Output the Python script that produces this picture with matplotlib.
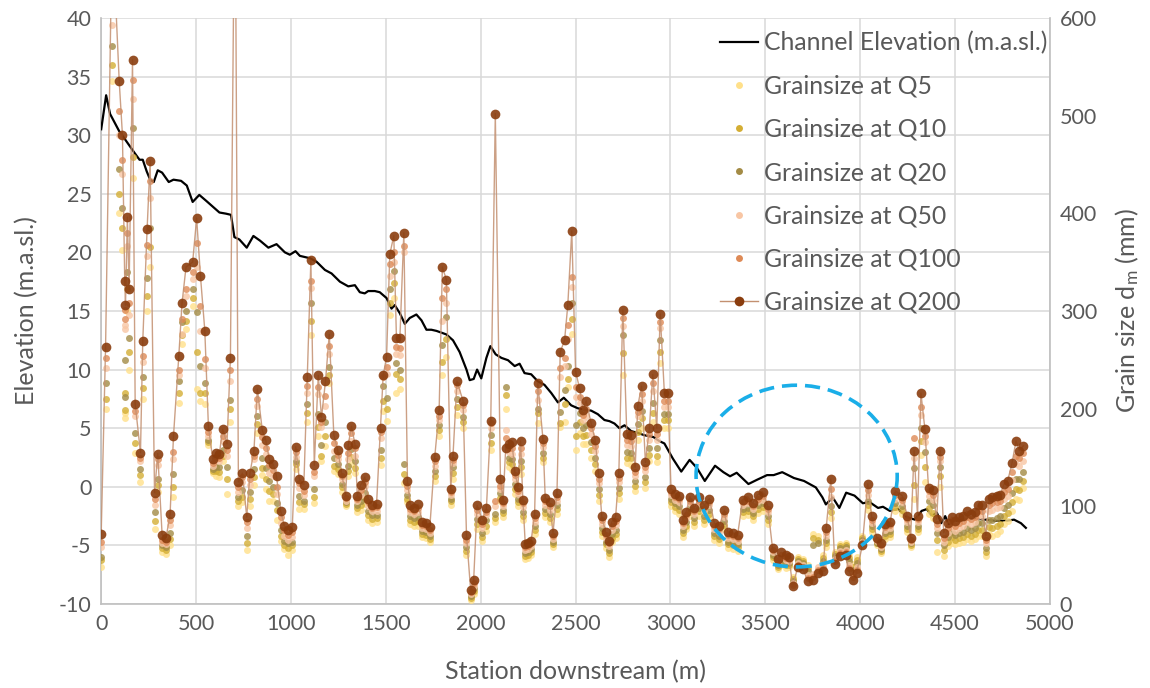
import matplotlib
matplotlib.use("Agg")
import matplotlib.pyplot as plt
from matplotlib.patches import Ellipse
from matplotlib.lines import Line2D

plt.rcParams['font.family'] = ['Lato', 'DejaVu Sans']
plt.rcParams['mathtext.fontset'] = 'custom'
plt.rcParams['mathtext.rm'] = 'Lato'
plt.rcParams['mathtext.it'] = 'Lato:italic'
plt.rcParams['axes.unicode_minus'] = False

# ---------------- Channel elevation (m.a.sl.) ----------------
channel_station = [
    0, 26, 47, 70, 96, 123, 149, 175, 202, 219,
    240, 258, 277, 298, 321, 356, 381, 421, 451, 482,
    517, 553, 588, 623, 658, 684, 702, 728, 767, 802,
    837, 881, 924, 968, 994, 1024, 1047, 1100, 1135, 1179,
    1214, 1258, 1302, 1337, 1363, 1389, 1407, 1442, 1468, 1504,
    1530, 1547, 1574, 1600, 1626, 1661, 1688, 1714, 1740, 1767,
    1819, 1854, 1889, 1925, 1942, 1963, 1981, 2003, 2030, 2051,
    2079, 2109, 2144, 2179, 2205, 2231, 2266, 2301, 2336, 2372,
    2407, 2438, 2477, 2512, 2547, 2582, 2617, 2652, 2679, 2705,
    2731, 2758, 2793, 2828, 2863, 2910, 2942, 2968, 3013, 3057,
    3101, 3140, 3181, 3235, 3279, 3314, 3349, 3411, 3456, 3509,
    3544, 3589, 3651, 3704, 3766, 3801, 3819, 3855, 3890, 3926,
    3970, 4014, 4049, 4094, 4120, 4156, 4200, 4245, 4289, 4324,
    4351, 4377, 4404, 4427, 4448, 4466, 4501, 4554, 4608, 4661,
    4714, 4767, 4811, 4847, 4873]
channel_elev = [
    30.5, 33.4, 31.8, 31.1, 30.3, 29.7, 29.1, 28.5, 27.9, 27.9,
    26.9, 26.2, 26.0, 27.0, 26.8, 26.0, 26.2, 26.1, 25.7, 24.3,
    24.9, 24.4, 23.9, 23.4, 23.3, 23.2, 21.3, 21.1, 20.4, 21.4,
    21.0, 20.4, 20.7, 20.0, 19.8, 20.1, 19.7, 19.5, 19.2, 18.5,
    18.2, 17.5, 17.1, 17.2, 16.6, 16.5, 16.7, 16.7, 16.6, 16.1,
    15.2, 15.5, 14.8, 13.9, 14.4, 14.7, 14.2, 13.4, 13.4, 13.3,
    13.0, 12.5, 11.5, 10.0, 9.1, 9.2, 10.0, 9.25, 11.0, 12.0,
    11.3, 11.0, 10.8, 10.3, 10.5, 9.7, 9.6, 9.0, 8.7, 8.0,
    7.2, 7.6, 6.95, 6.7, 6.6, 6.5, 6.2, 5.7, 5.6, 5.4,
    5.0, 5.25, 4.75, 4.6, 4.4, 4.25, 3.9, 3.7, 2.4, 1.3,
    2.3, 1.6, 0.5, 1.8, 1.25, 0.9, 1.2, 0.24, 0.6, 1.0,
    1.0, 1.25, 0.75, 0.5, -0.05, -0.9, -1.5, -0.9, -1.8, -0.5,
    -0.75, -1.4, -1.3, -1.8, -1.7, -2.05, -1.9, -2.6, -2.8, -2.05,
    -1.9, -2.5, -2.2, -3.1, -2.5, -3.2, -2.9, -2.8, -2.7, -2.8,
    -2.9, -2.9, -2.8, -3.1, -3.5]

# ---------------- Grain size stations (m) ----------------
grain_station = [
    0, 23, 58, 95, 112, 124, 128, 138, 147, 165,
    179, 207, 219, 242, 258, 281, 298, 321, 342, 363,
    381, 409, 426, 447, 482, 503, 523, 546, 565, 588,
    605, 623, 640, 663, 681, 705, 723, 744, 767, 784,
    805, 823, 849, 867, 886, 907, 924, 946, 965, 986,
    1007, 1025, 1044, 1068, 1086, 1105, 1123, 1144, 1161, 1182,
    1202, 1226, 1246, 1267, 1288, 1302, 1319, 1337, 1350, 1368,
    1389, 1407, 1428, 1451, 1472, 1486, 1504, 1521, 1542, 1556,
    1574, 1595, 1614, 1630, 1649, 1670, 1693, 1714, 1732, 1758,
    1781, 1798, 1819, 1842, 1854, 1875, 1907, 1925, 1947, 1963,
    1981, 2009, 2030, 2053, 2077, 2104, 2118, 2132, 2147, 2165,
    2179, 2196, 2210, 2222, 2235, 2250, 2266, 2284, 2301, 2328,
    2340, 2363, 2381, 2402, 2419, 2442, 2459, 2480, 2500, 2521,
    2538, 2556, 2582, 2603, 2621, 2638, 2658, 2675, 2691, 2711,
    2728, 2749, 2770, 2793, 2814, 2828, 2848, 2868, 2889, 2907,
    2928, 2946, 2968, 2986, 3003, 3026, 3047, 3065, 3082, 3103,
    3126, 3152, 3179, 3205, 3231, 3258, 3284, 3302, 3328, 3354,
    3381, 3407, 3433, 3460, 3486, 3512, 3538, 3565, 3583, 3607,
    3625, 3644, 3671, 3697, 3724, 3750, 3777, 3803, 3821, 3845,
    3866, 3892, 3924, 3940, 3963, 3981, 4011, 4040, 4060, 4087,
    4110, 4131, 4158, 4185, 4221, 4248, 4266, 4284, 4302, 4320,
    4341, 4360, 4382, 4403, 4422, 4440, 4461, 4483, 4500, 4522,
    4543, 4561, 4583, 4604, 4622, 4641, 4662, 4680, 4697, 4719,
    4737, 4759, 4777, 4800, 4821, 4839, 4860]

# ---------------- Grain size d_m (mm) per flood ----------------
q200 = [
    72, 263, 696, 535, 480, 331, 306, 396, 322, 557,
    205, 155, 269, 384, 454, 114, 154, 71, 68, 92,
    172, 254, 308, 345, 350, 395, 336, 280, 182, 148,
    155, 154, 179, 164, 252, 780, 125, 134, 89, 134,
    157, 220, 178, 168, 148, 143, 131, 95, 80, 76,
    79, 161, 128, 122, 232, 352, 142, 234, 191, 228,
    276, 173, 158, 134, 111, 163, 182, 164, 111, 122,
    130, 108, 101, 102, 180, 234, 253, 358, 377, 272,
    272, 380, 126, 101, 98, 102, 84, 83, 79, 151,
    199, 345, 332, 118, 152, 228, 208, 71, 14, 25,
    101, 86, 98, 187, 502, 128, 107, 160, 164, 166,
    136, 120, 167, 107, 61, 62, 65, 92, 226, 169,
    109, 104, 73, 114, 258, 270, 306, 382, 238, 221,
    199, 208, 185, 168, 134, 90, 74, 65, 84, 89,
    134, 301, 174, 173, 140, 203, 223, 145, 180, 235,
    180, 297, 216, 216, 118, 113, 111, 86, 94, 110,
    98, 110, 101, 108, 83, 80, 96, 74, 73, 71,
    107, 110, 103, 112, 115, 101, 57, 46, 53, 50,
    48, 18, 38, 36, 24, 25, 32, 34, 78, 128,
    41, 49, 50, 34, 25, 32, 60, 123, 90, 68,
    62, 82, 84, 116, 111, 90, 68, 157, 90, 216,
    179, 119, 117, 87, 157, 73, 83, 89, 85, 89,
    90, 95, 92, 94, 101, 101, 70, 108, 110, 111,
    112, 123, 126, 144, 167, 157, 162]
q100 = [
    64, 252, 620, 505, 455, 301, 292, 380, 308, 536,
    198, 150, 254, 368, 433, 108, 148, 66, 64, 86,
    156, 240, 292, 323, 340, 370, 305, 251, 176, 144,
    151, 150, 172, 158, 240, 720, 120, 130, 84, 128,
    152, 210, 171, 160, 142, 137, 120, 89, 76, 71,
    74, 156, 124, 116, 223, 331, 135, 222, 186, 213,
    264, 165, 153, 131, 109, 155, 175, 160, 108, 117,
    125, 104, 98, 99, 176, 232, 243, 348, 360, 263,
    262, 367, 121, 97, 95, 98, 81, 80, 76, 146,
    193, 313, 322, 115, 147, 224, 204, 66, 12, 22,
    96, 82, 94, 185, 106, 121, 103, 170, 160, 160,
    132, 116, 160, 103, 58, 59, 62, 88, 218, 165,
    105, 100, 70, 110, 242, 252, 286, 335, 222, 212,
    194, 200, 180, 162, 128, 86, 71, 62, 80, 85,
    129, 293, 168, 167, 135, 197, 215, 140, 174, 226,
    174, 289, 208, 208, 115, 110, 108, 83, 91, 106,
    95, 106, 98, 104, 80, 77, 92, 71, 70, 68,
    104, 106, 100, 108, 111, 97, 55, 44, 50, 47,
    46, 20, 40, 38, 27, 28, 35, 37, 74, 118,
    44, 52, 53, 37, 28, 35, 62, 117, 86, 66,
    60, 79, 81, 112, 107, 87, 66, 170, 87, 202,
    172, 116, 112, 82, 151, 68, 78, 84, 80, 83,
    85, 89, 87, 89, 95, 95, 66, 101, 103, 104,
    105, 115, 118, 135, 152, 150, 155]
q50 = [
    58, 242, 593, 480, 440, 286, 282, 366, 296, 517,
    192, 146, 248, 356, 416, 101, 142, 63, 61, 81,
    148, 234, 276, 315, 333, 345, 280, 242, 172, 141,
    147, 146, 167, 152, 228, 690, 115, 125, 78, 122,
    148, 203, 163, 154, 134, 131, 113, 83, 70, 66,
    69, 151, 119, 112, 216, 324, 131, 215, 181, 203,
    256, 157, 148, 128, 106, 148, 167, 152, 105, 112,
    121, 100, 95, 95, 170, 236, 236, 336, 350, 256,
    255, 360, 117, 94, 92, 94, 78, 77, 73, 141,
    188, 290, 308, 112, 144, 218, 199, 62, 10, 19,
    92, 78, 91, 180, 100, 118, 100, 178, 156, 154,
    128, 113, 154, 99, 55, 56, 59, 84, 209, 161,
    101, 96, 67, 106, 232, 244, 271, 325, 212, 206,
    188, 193, 174, 157, 124, 82, 68, 59, 76, 81,
    125, 285, 163, 162, 131, 192, 208, 136, 168, 218,
    168, 283, 202, 202, 112, 107, 104, 80, 88, 103,
    92, 103, 95, 101, 77, 74, 89, 68, 67, 65,
    101, 103, 97, 105, 107, 94, 53, 42, 48, 45,
    44, 22, 42, 40, 30, 31, 38, 40, 70, 110,
    46, 54, 55, 40, 31, 38, 64, 112, 83, 65,
    58, 76, 78, 108, 104, 84, 64, 150, 84, 194,
    166, 111, 107, 78, 146, 64, 73, 79, 75, 78,
    80, 84, 82, 84, 90, 90, 62, 95, 96, 98,
    99, 108, 111, 127, 143, 141, 146]
q20 = [
    48, 226, 571, 445, 405, 212, 250, 340, 272, 487,
    175, 138, 232, 334, 385, 94, 128, 60, 58, 73,
    133, 228, 289, 300, 323, 299, 244, 226, 168, 138,
    140, 140, 158, 140, 209, 650, 110, 117, 70, 115,
    138, 192, 150, 139, 126, 120, 103, 76, 65, 62,
    64, 146, 111, 106, 205, 308, 118, 195, 163, 186,
    243, 149, 143, 123, 104, 141, 159, 146, 101, 106,
    114, 95, 91, 91, 158, 223, 211, 322, 341, 247,
    240, 143, 112, 90, 88, 89, 75, 74, 70, 136,
    183, 265, 294, 108, 140, 210, 191, 58, 8, 16,
    87, 73, 86, 173, 92, 114, 96, 222, 150, 148,
    123, 108, 146, 94, 52, 53, 56, 80, 200, 155,
    97, 92, 64, 101, 197, 219, 244, 308, 183, 196,
    180, 183, 166, 150, 118, 78, 64, 55, 72, 76,
    119, 275, 156, 155, 126, 184, 198, 130, 160, 206,
    160, 270, 195, 195, 108, 103, 100, 76, 84, 98,
    88, 98, 90, 96, 73, 70, 85, 64, 63, 61,
    97, 98, 93, 101, 103, 90, 50, 40, 45, 42,
    42, 24, 44, 42, 34, 60, 62, 44, 66, 100,
    49, 57, 58, 44, 35, 42, 66, 106, 80, 63,
    56, 73, 75, 103, 100, 80, 62, 139, 80, 180,
    156, 105, 101, 73, 140, 60, 69, 74, 71, 73,
    74, 78, 76, 78, 83, 83, 57, 86, 86, 88,
    90, 98, 101, 114, 128, 128, 135]
q10 = [
    45, 210, 552, 420, 385, 199, 216, 322, 258, 458,
    165, 132, 221, 315, 365, 85, 122, 57, 55, 67,
    120, 216, 275, 290, 313, 258, 216, 216, 166, 136,
    136, 135, 152, 128, 200, 630, 105, 110, 63, 108,
    130, 184, 139, 128, 116, 113, 96, 70, 60, 57,
    60, 143, 104, 102, 196, 290, 110, 181, 152, 172,
    234, 141, 138, 120, 102, 136, 151, 139, 98, 101,
    108, 91, 87, 88, 150, 208, 200, 308, 329, 236,
    230, 133, 108, 86, 84, 85, 72, 71, 67, 131,
    178, 248, 271, 105, 134, 202, 186, 54, 6, 13,
    82, 69, 80, 165, 88, 109, 93, 214, 145, 143,
    118, 104, 140, 90, 49, 50, 53, 76, 196, 150,
    93, 88, 61, 97, 185, 205, 230, 292, 172, 186,
    172, 173, 158, 143, 112, 74, 61, 52, 68, 72,
    114, 257, 150, 149, 121, 176, 190, 125, 153, 196,
    152, 258, 188, 188, 104, 99, 96, 73, 80, 94,
    84, 95, 86, 92, 70, 67, 81, 61, 60, 58,
    94, 95, 90, 97, 99, 86, 48, 38, 43, 40,
    40, 26, 46, 44, 37, 68, 66, 47, 62, 94,
    51, 59, 60, 47, 38, 45, 68, 101, 77, 62,
    54, 70, 72, 99, 96, 77, 60, 122, 77, 167,
    140, 98, 93, 66, 131, 55, 64, 69, 66, 68,
    69, 72, 70, 72, 76, 76, 53, 79, 78, 80,
    82, 90, 93, 104, 118, 117, 126]
q5 = [
    38, 200, 535, 400, 362, 190, 196, 300, 240, 436,
    155, 125, 210, 300, 345, 77, 115, 53, 51, 60,
    110, 206, 266, 282, 305, 220, 208, 205, 163, 134,
    131, 130, 146, 113, 186, 612, 100, 104, 55, 100,
    122, 175, 132, 118, 106, 106, 86, 65, 56, 50,
    55, 138, 97, 97, 186, 275, 103, 172, 146, 162,
    226, 136, 133, 115, 100, 131, 143, 134, 94, 96,
    102, 86, 83, 84, 142, 198, 187, 296, 313, 216,
    220, 124, 104, 82, 80, 80, 69, 68, 64, 126,
    172, 234, 253, 101, 128, 194, 180, 50, 4, 10,
    77, 65, 75, 158, 84, 106, 89, 200, 140, 137,
    113, 100, 133, 86, 46, 47, 50, 72, 185, 145,
    89, 84, 58, 92, 181, 186, 222, 276, 158, 175,
    164, 164, 150, 136, 106, 70, 57, 48, 64, 68,
    108, 234, 144, 142, 116, 168, 180, 119, 146, 186,
    145, 247, 180, 180, 100, 95, 92, 69, 77, 90,
    80, 90, 82, 88, 66, 63, 77, 57, 56, 54,
    90, 91, 86, 93, 95, 82, 45, 36, 40, 37,
    38, 28, 48, 46, 40, 72, 70, 50, 58, 88,
    53, 61, 62, 50, 41, 48, 70, 96, 74, 60,
    52, 67, 69, 95, 92, 74, 58, 108, 74, 153,
    125, 92, 88, 53, 120, 49, 59, 63, 61, 63,
    64, 67, 65, 67, 70, 70, 49, 72, 70, 72,
    75, 82, 85, 95, 108, 107, 119]

series_labels = ["Grainsize at Q5", "Grainsize at Q10", "Grainsize at Q20",
                 "Grainsize at Q50", "Grainsize at Q100", "Grainsize at Q200"]
series_colors = ["#FFE08A", "#D4AE34", "#A38B45", "#F8C6A4", "#DE8A56", "#8A3D0E"]
channel_label = "Channel Elevation (m.a.sl.)"

x_ticks = list(range(0, 5001, 500))
elev_ticks = list(range(-10, 41, 5))
grain_ticks = list(range(0, 601, 100))

# highlight ellipse (station m, grain size mm)
highlight_center = (3665, 131)
highlight_size = (1060, 186)

TXT = "#595959"
GRID = "#D9D9D9"

fig = plt.figure(figsize=(11.5, 6.88), dpi=100)
ax1 = fig.add_axes([0.088, 0.122, 0.825, 0.852])
ax2 = ax1.twinx()

ax1.plot(channel_station, channel_elev, color="black", lw=1.6, zorder=3)
ax1.set_xlim(0, 5000)
ax1.set_ylim(-10, 40)
ax1.set_xticks(x_ticks)
ax1.set_yticks(elev_ticks)
ax1.grid(True, color=GRID, lw=1.1)
ax1.set_axisbelow(True)

all_series = [q5, q10, q20, q50, q100]
for vals, col, z in zip(all_series, series_colors[:5], range(2, 7)):
    ax2.plot(grain_station, vals, ls="none", marker="o", ms=5.0,
             mfc=col, mec="none", alpha=0.8, zorder=z)
ax2.plot(grain_station, q200, color="#C39070", lw=1.0, alpha=0.85, zorder=7)
ax2.plot(grain_station, q200, ls="none", marker="o", ms=7.0,
         mfc=series_colors[5], mec="none", alpha=0.9, zorder=8)
ax2.set_ylim(0, 600)
ax2.set_yticks(grain_ticks)

ell = Ellipse(highlight_center, highlight_size[0], highlight_size[1],
              fill=False, edgecolor="#1AAEE8", lw=2.6,
              linestyle=(0, (4.2, 2.2)), zorder=10)
ax2.add_patch(ell)

for ax in (ax1, ax2):
    ax.tick_params(length=0, labelsize=15.5, labelcolor=TXT, pad=7)
    ax.spines["top"].set_visible(False)
    for s in ("left", "bottom", "right"):
        ax.spines[s].set_color("#BFBFBF")
        ax.spines[s].set_linewidth(1.2)
ax1.spines["right"].set_visible(False)
ax2.spines["left"].set_visible(False)
ax2.spines["bottom"].set_visible(False)

ax1.set_xlabel("Station downstream (m)", fontsize=18, color=TXT, labelpad=19)
ax1.set_ylabel("Elevation (m.a.sl.)", fontsize=18, color=TXT, labelpad=15)
ax2.set_ylabel(r"Grain size d$_\mathrm{m}$ (mm)", fontsize=18, color=TXT, labelpad=12)

handles = [Line2D([], [], color="black", lw=1.6)]
for col in series_colors[:5]:
    handles.append(Line2D([], [], ls="none", marker="o", ms=5.0, mfc=col, mec="none"))
handles.append(Line2D([], [], color="#C39070", lw=1.0, marker="o", ms=7.0,
                      mfc=series_colors[5], mec="none"))
leg = fig.legend(handles, [channel_label] + series_labels, loc="upper left",
                 bbox_to_anchor=(720 / 1150, 1 - 31 / 688), frameon=False,
                 fontsize=17.8, labelcolor=TXT, labelspacing=0.82,
                 handlelength=1.55, handletextpad=0.25, borderpad=0,
                 borderaxespad=0)

fig.savefig("out.png", dpi=100)
